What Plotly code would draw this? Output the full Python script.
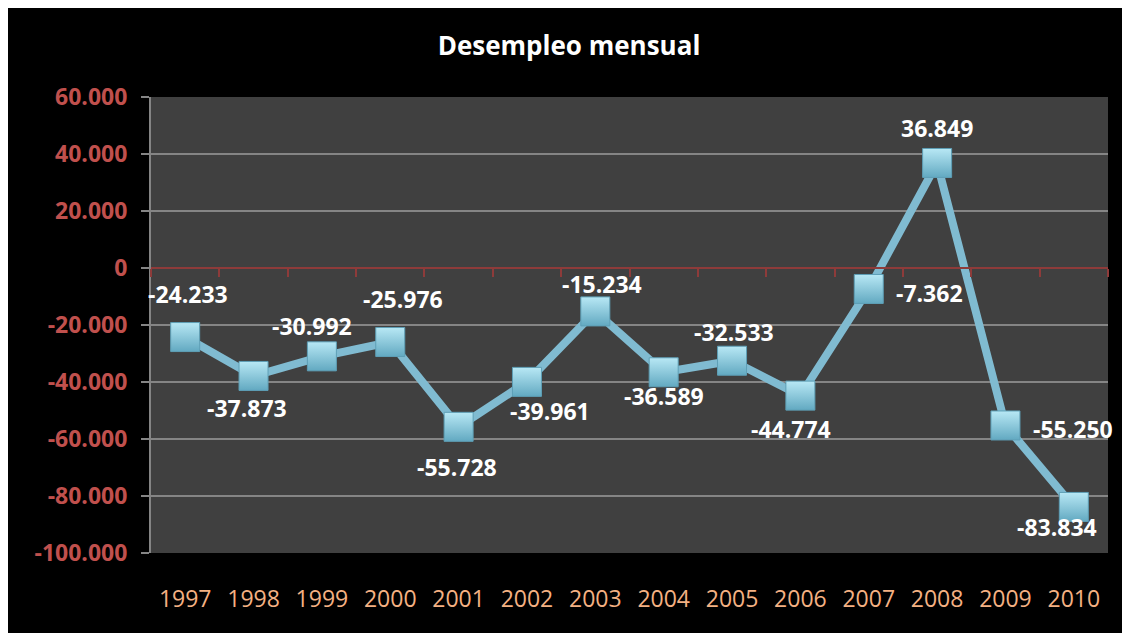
import plotly.graph_objects as go

# data
years = ["1997", "1998", "1999", "2000", "2001", "2002", "2003",
         "2004", "2005", "2006", "2007", "2008", "2009", "2010"]
desempleo = [-24233, -37873, -30992, -25976, -55728, -39961, -15234,
             -36589, -32533, -44774, -7362, 36849, -55250, -83834]
y_ticks = [60000, 40000, 20000, 0, -20000, -40000, -60000, -80000, -100000]

# data labels were dragged by hand in the original, pixel offsets from each point
label_dx = [3, -7, -10, 13, -2, 23, 7, 0, 2, -9, 61, 0, 68, -17]
label_dy = [-43, 32, -30, -43, 40, 29, -27, 24, -29, 33, 4, -35, 4, 20]


def fmt(v):
    return f"{v:,d}".replace(",", ".")


fig = go.Figure()
fig.add_trace(
    go.Scatter(
        x=years,
        y=desempleo,
        mode="lines+markers",
        line=dict(color="#80BBD1", width=8),
        marker=dict(
            symbol="square",
            size=29,
            color="#B8E8F5",
            gradient=dict(type="vertical", color="#62A9C1"),
            line=dict(color="#5E9FB6", width=1),
        ),
        hoverinfo="skip",
        showlegend=False,
    )
)

# year strings look numeric, so annotations use the category index
for i, (v, dx, dy) in enumerate(zip(desempleo, label_dx, label_dy)):
    fig.add_annotation(
        x=i, y=v, text=fmt(v), showarrow=False,
        xshift=dx, yshift=-dy,
        font=dict(family="Open Sans", size=23, color="white", weight="bold"),
    )

# x ticks on the zero line, at the category boundaries
n = len(years)
fig.add_trace(go.Scatter(x=[], y=[], xaxis="x2", showlegend=False))

fig.update_layout(
    width=1122,
    height=625,
    autosize=False,
    margin=dict(l=143, r=22, t=89, b=80),
    paper_bgcolor="black",
    plot_bgcolor="#404040",
    separators=",.",
    title=dict(
        text="<b>Desempleo mensual</b>",
        x=0.5,
        xref="container",
        y=0.94,
        yanchor="middle",
        font=dict(family="Open Sans", size=26, color="white"),
    ),
    xaxis=dict(
        type="category",
        range=[-0.5, n - 0.5],
        showgrid=False,
        showline=False,
        ticks="",
        ticklabelstandoff=30,
        tickfont=dict(family="Open Sans", size=23, color="#F4B183"),
        fixedrange=True,
    ),
    xaxis2=dict(
        overlaying="x",
        anchor="free",
        position=0.625,
        range=[-0.5, n - 0.5],
        tickvals=[i - 0.5 for i in range(n + 1)],
        showticklabels=False,
        showgrid=False,
        showline=True,
        linecolor="#8E3B3A",
        linewidth=2,
        ticks="outside",
        ticklen=8,
        tickwidth=2,
        tickcolor="#8E3B3A",
        zeroline=False,
    ),
    yaxis=dict(
        range=[-100000, 60000],
        tickvals=y_ticks,
        ticktext=[fmt(v) for v in y_ticks],
        showgrid=True,
        gridcolor="#858585",
        gridwidth=2,
        zeroline=False,
        showline=True,
        linecolor="#858585",
        linewidth=2,
        ticks="outside",
        ticklen=8,
        tickwidth=2,
        tickcolor="#858585",
        tickfont=dict(family="Open Sans", size=23, color="#C0504D", weight="bold"),
        ticklabelstandoff=9,
        fixedrange=True,
    ),
)

fig.write_html("out.html")
